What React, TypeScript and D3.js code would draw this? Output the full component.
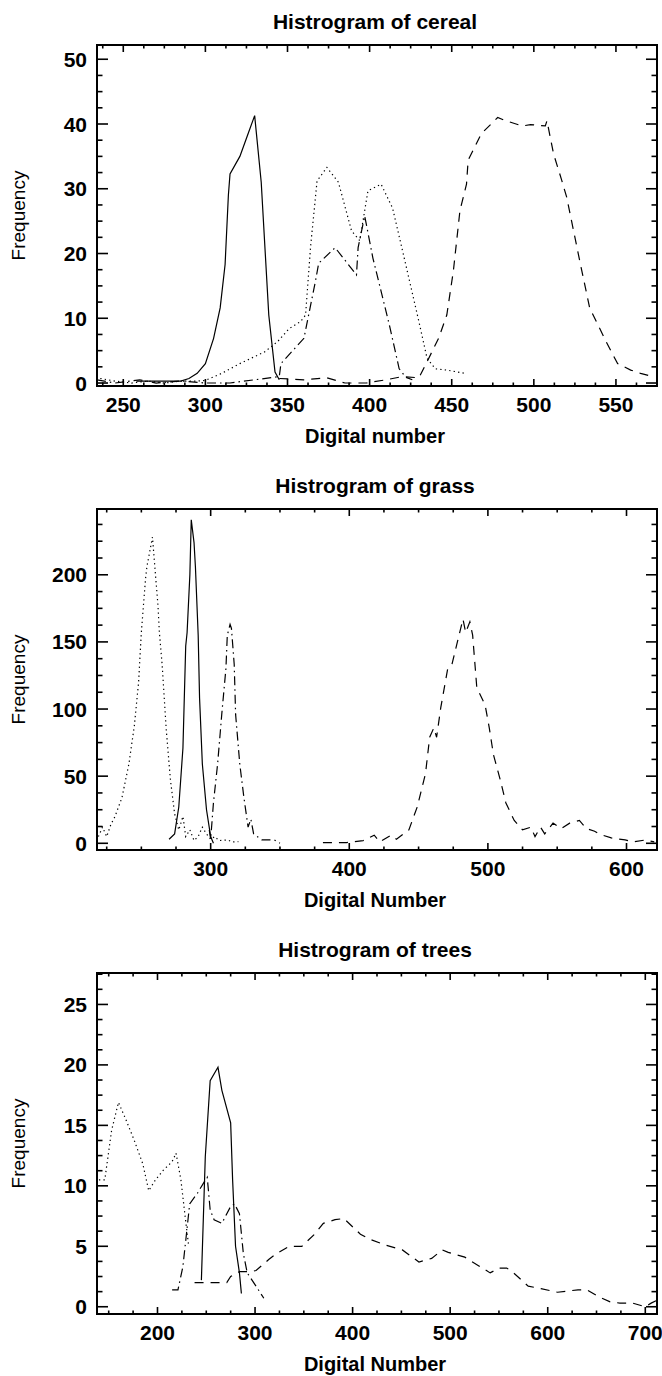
import React from 'react'
import * as d3 from 'd3'

// values, [digital number, frequency]
const cerealSolid: [number, number][] = [[258,0.3],[265,0.3],[275,0.3],[285,0.3],[290,0.7],[295,1.5],[300,3],[305,6.9],[309,11.6],[312,18.3],[314,29],[315,32.3],[321,35],[326,38.5],[330,41.3],[334,31],[338.6,10.5],[342.4,1.7],[345,0.5]]
const cerealDotted: [number, number][] = [[236,0.7],[245,0.3],[255,0],[265,0.3],[275,0],[285,0.3],[295,0.3],[300,0.4],[310,1.5],[321,3],[336,4.8],[344,6.4],[351,8.4],[358,9.5],[361,10.5],[364,20.9],[368,31.2],[374,33.3],[381,31],[389,23.5],[394,22],[399,29.7],[407,30.7],[414,27],[422,18.3],[430,9.5],[435,3.8],[440,2.2],[447,2],[458,1.5]]
const cerealDashDot: [number, number][] = [[234,0.5],[245,0],[260,0.5],[270,0],[285,0.3],[300,0],[315,0],[330,0.5],[345,1],[346,3],[360,6.9],[367,15.7],[369,18.5],[379,20.9],[392,16.7],[393,20.9],[397,25.8],[402,19.3],[412,9],[418,2.2],[422,0.9],[426,0.5]]
const cerealDashed: [number, number][] = [[345,0.7],[360,0.5],[374,0.8],[385,0],[398,0],[410,0.5],[420,1],[430,0.8],[435,3.3],[442,6.9],[447,10.5],[451,17.3],[455,26.6],[459,30.7],[460,34.4],[468,38.5],[478,41],[483,40.5],[493,39.7],[498,39.9],[507,39.7],[508,40.5],[512,35.4],[517,31.3],[520,28.7],[528,18.8],[534,11.6],[539,9],[544,6.4],[551,3],[559,2],[565,1.5],[572,1]]

const grassDotted: [number, number][] = [[219,5],[222,12],[225,5],[228,14],[231,20],[236,34],[241,59],[245,88],[248,120],[250,157],[253,197],[254,206],[258,228],[262,177],[263,157],[265,133],[268,84],[271,47],[274,22],[277,10],[280,20],[282,5],[285,10],[288,2],[291,5],[294,12],[297,7],[300,3],[303,5],[306,2],[312,2.5],[316,1],[320,1.2]]
const grassSolid: [number, number][] = [[270,3],[274,7],[277,27],[280,71],[282,147],[283,157],[285,200],[286,241],[288,224],[289,206],[291,155],[292,108],[294,59],[297,25],[300,5],[302,0]]
const grassDashDot: [number, number][] = [[299,10],[300,3],[302,30],[305,59],[308,96],[311,130],[312,155],[314,163],[315,160],[317,133],[318,96],[321,59],[324,34],[327,12],[329,18],[331,7],[337,2.5],[346,2.5],[350,0]]
const grassDashed: [number, number][] = [[381,0.5],[398,0.5],[410,2],[418,6],[422,1],[430,6],[434,3],[443,10],[449,27],[455,52],[458,79],[461,86],[463,79],[466,101],[471,130],[474,133],[478,150],[482,167],[484,157],[487,165],[489,155],[492,116],[498,103],[501,86],[504,66],[509,47],[513,30],[519,17],[525,10],[531,12],[534,5],[538,12],[541,7],[547,15],[553,11],[559,15],[566,17],[571,11],[577,9],[580,7],[589,4],[599,2.5],[605,1],[614,2.5],[620,1]]

const treesDotted: [number, number][] = [[140,10.5],[146,10.5],[153,14.6],[160,16.9],[168,15.4],[176,13.8],[185,11.8],[191,9.6],[198,10.5],[206,11.3],[215,12],[219,12.7],[224,10.5],[228,7.7],[232,5]]
const treesDashDot: [number, number][] = [[215,1.4],[221,1.4],[226,3.3],[229,5.5],[233,8.5],[241,9.4],[247,10.2],[251,10.7],[254,8],[258,7.2],[266,6.9],[275,8.3],[279,8.5],[284,7.7],[288,4.4],[292,2.8],[301,1.7],[309,0.7]]
const treesSolid: [number, number][] = [[245,2.2],[249,12.4],[254,18.7],[262,19.8],[266,17.9],[275,15.2],[277,10.5],[280,5],[284,2.8],[286,1.1]]
const treesDashed: [number, number][] = [[238,2],[249,2],[262,2],[271,2],[275,2.5],[284,2.9],[296,2.9],[301,3],[314,3.9],[322,4.4],[335,5],[348,5],[361,6],[370,6.9],[382,7.2],[391,7.3],[408,6],[417,5.6],[434,5.1],[451,4.7],[468,3.7],[481,4],[492,4.7],[498,4.5],[515,4.1],[533,3.2],[541,2.8],[550,3.2],[558,3.2],[565,2.8],[580,1.7],[593,1.5],[610,1.2],[631,1.4],[640,1.4],[653,0.8],[664,0.4],[674,0.3],[687,0.3],[700,0],[706,0.3],[711,0.5]]

const titles = ['Histrogram of cereal', 'Histrogram of grass', 'Histrogram of trees']
const xTitles = ['Digital number', 'Digital Number', 'Digital Number']
const xDomains: [number, number][] = [[234, 575], [218, 622], [138, 712]]
const yDomains: [number, number][] = [[-0.46, 52.2], [-5, 249], [-0.6, 27.6]]
const xSteps = [50, 100, 100]
const ySteps = [10, 50, 5]

const dashes = { solid: null, dotted: '1.3,3.2', dashed: '9,7', dashdot: '9,4,1.5,4' }

const panels = [
  { series: [[cerealSolid, dashes.solid], [cerealDotted, dashes.dotted], [cerealDashDot, dashes.dashdot], [cerealDashed, dashes.dashed]] },
  { series: [[grassDotted, dashes.dotted], [grassSolid, dashes.solid], [grassDashDot, dashes.dashdot], [grassDashed, dashes.dashed]] },
  { series: [[treesDotted, dashes.dotted], [treesDashDot, dashes.dashdot], [treesSolid, dashes.solid], [treesDashed, dashes.dashed]] },
]

const W = 662
const H = 1376
const left = 97
const right = 657
const tops = [45, 509, 973]
const plotH = 341
const font = '"Liberation Sans", Arial, sans-serif'

const Panel = ({ i }: { i: number }) => {
  const top = tops[i]
  const bottom = top + plotH
  const x = d3.scaleLinear().domain(xDomains[i]).range([left, right])
  const y = d3.scaleLinear().domain(yDomains[i]).range([bottom, top])
  const xs = xSteps[i], ys = ySteps[i]
  const [x0, x1] = xDomains[i]
  const [y0, y1] = yDomains[i]
  const xMajor = d3.range(Math.ceil(x0 / xs) * xs, x1 + 1e-9, xs)
  const xMinor = d3.range(Math.ceil(x0 / (xs / 4)) * (xs / 4), x1, xs / 4)
  const yMajor = d3.range(Math.ceil(y0 / ys) * ys, y1 + 1e-9, ys)
  const yMinor = d3.range(Math.ceil(y0 / (ys / 4)) * (ys / 4), y1, ys / 4)
  const line = d3.line<[number, number]>().x(d => x(d[0])).y(d => y(d[1]))
  const clipId = `clip${i}`
  const isMajorX = (v: number) => Math.abs(v / xs - Math.round(v / xs)) < 1e-6
  const isMajorY = (v: number) => Math.abs(v / ys - Math.round(v / ys)) < 1e-6
  const cx = (left + right) / 2 - 2
  return (
    <g>
      <defs>
        <clipPath id={clipId}>
          <rect x={left} y={top} width={right - left} height={plotH} />
        </clipPath>
      </defs>
      <text x={cx} y={top - 16} textAnchor="middle" fontSize={21} fontWeight="bold" fontFamily={font}>{titles[i]}</text>
      <g clipPath={`url(#${clipId})`} fill="none" stroke="#000" strokeWidth={1.2}>
        {panels[i].series.map(([data, dash], k) => (
          <path key={k} d={line(data as [number, number][]) || ''} strokeDasharray={(dash as string) || undefined} />
        ))}
      </g>
      <g stroke="#000" strokeWidth={1.6}>
        {xMinor.map(v => {
          const len = isMajorX(v) ? 7 : 3.5
          return (
            <g key={'x' + v}>
              <line x1={x(v)} x2={x(v)} y1={bottom} y2={bottom - len} />
              <line x1={x(v)} x2={x(v)} y1={top} y2={top + len} />
            </g>
          )
        })}
        {yMinor.map(v => {
          const len = isMajorY(v) ? 11 : 5.5
          return (
            <g key={'y' + v}>
              <line x1={left} x2={left + len} y1={y(v)} y2={y(v)} />
              <line x1={right} x2={right - len} y1={y(v)} y2={y(v)} />
            </g>
          )
        })}
      </g>
      <rect x={left} y={top} width={right - left} height={plotH} fill="none" stroke="#000" strokeWidth={2} />
      <g fontSize={21} fontWeight="bold" fontFamily={font}>
        {xMajor.map(v => (
          <text key={'xl' + v} x={x(v)} y={bottom + 26} textAnchor="middle">{v}</text>
        ))}
        {yMajor.map(v => (
          <text key={'yl' + v} x={87} y={y(v) + 7.5} textAnchor="end">{v}</text>
        ))}
      </g>
      <text x={cx} y={bottom + 57} textAnchor="middle" fontSize={20} fontWeight="bold" fontFamily={font}>{xTitles[i]}</text>
      <text transform={`translate(25,${(top + bottom) / 2}) rotate(-90)`} textAnchor="middle" fontSize={19} fontFamily={font}>Frequency</text>
    </g>
  )
}

export default function App() {
  return (
    <svg width={W} height={H} style={{ position: 'absolute', left: 0, top: 0, background: '#fff' }}>
      <rect width={W} height={H} fill="#fff" />
      {[0, 1, 2].map(i => <Panel key={i} i={i} />)}
    </svg>
  )
}
